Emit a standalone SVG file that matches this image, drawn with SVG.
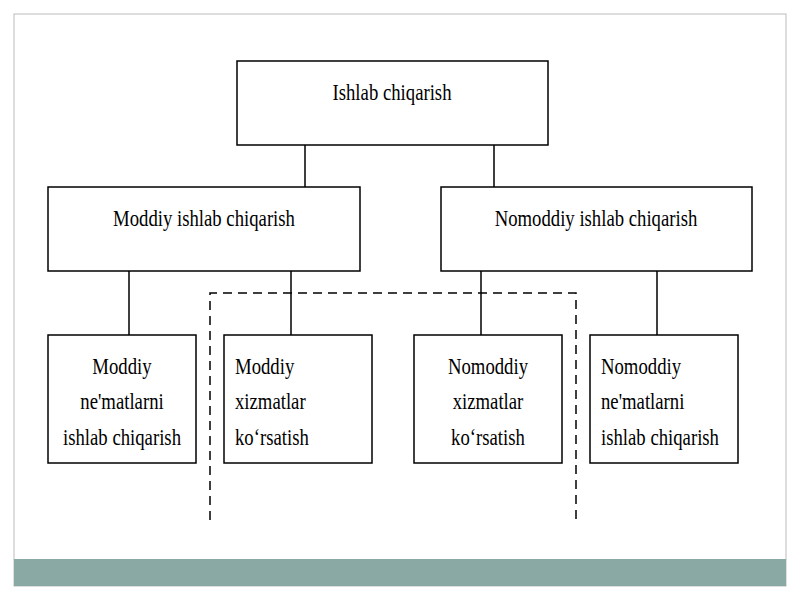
<svg xmlns="http://www.w3.org/2000/svg" width="800" height="600" viewBox="0 0 800 600">
<style>
.b{fill:#fff;stroke:#000;stroke-width:1.5}
.t{font-family:"Liberation Serif",serif;font-size:24px;fill:#000}
.c{text-anchor:middle}
.l{stroke:#000;stroke-width:1.5;fill:none}
</style>
<rect x="0" y="0" width="800" height="600" fill="#fff"/>
<rect x="14" y="14" width="772" height="572" fill="#fff" stroke="#bbb" stroke-width="1"/>
<rect x="14" y="559" width="772" height="27" fill="#8aa8a4"/>
<g id="connectors">
<path class="l" d="M305 145V187M494 145V187M129 271V335M291 271V335M481 271V335M657 271V335"/>
<path class="l" d="M210 520V293H576V520" stroke-dasharray="9,6"/>
</g>
<g id="root"><rect class="b" x="237" y="61" width="311" height="84"/><text class="t c" transform="translate(392 0) scale(0.78 1)" x="0" y="100">Ishlab chiqarish</text></g>
<g id="moddiy"><rect class="b" x="48" y="187" width="312" height="84"/><text class="t c" transform="translate(204 0) scale(0.78 1)" x="0" y="226">Moddiy ishlab chiqarish</text></g>
<g id="nomoddiy"><rect class="b" x="441" y="187" width="311" height="84"/><text class="t c" transform="translate(596 0) scale(0.78 1)" x="0" y="226">Nomoddiy ishlab chiqarish</text></g>
<g id="b1"><rect class="b" x="48" y="335" width="148" height="128"/><text class="t c" transform="translate(122 0) scale(0.78 1)"><tspan x="0" y="374">Moddiy</tspan><tspan x="0" y="409">ne'matlarni</tspan><tspan x="0" y="445">ishlab chiqarish</tspan></text></g>
<g id="b2"><rect class="b" x="224" y="335" width="148" height="128"/><text class="t" transform="translate(235 0) scale(0.78 1)"><tspan x="0" y="374">Moddiy</tspan><tspan x="0" y="409">xizmatlar</tspan><tspan x="0" y="445">ko‘rsatish</tspan></text></g>
<g id="b3"><rect class="b" x="414" y="335" width="148" height="128"/><text class="t c" transform="translate(488 0) scale(0.78 1)"><tspan x="0" y="374">Nomoddiy</tspan><tspan x="0" y="409">xizmatlar</tspan><tspan x="0" y="445">ko‘rsatish</tspan></text></g>
<g id="b4"><rect class="b" x="590" y="335" width="148" height="128"/><text class="t" transform="translate(601 0) scale(0.78 1)"><tspan x="0" y="374">Nomoddiy</tspan><tspan x="0" y="409">ne'matlarni</tspan><tspan x="0" y="445">ishlab chiqarish</tspan></text></g>
</svg>
